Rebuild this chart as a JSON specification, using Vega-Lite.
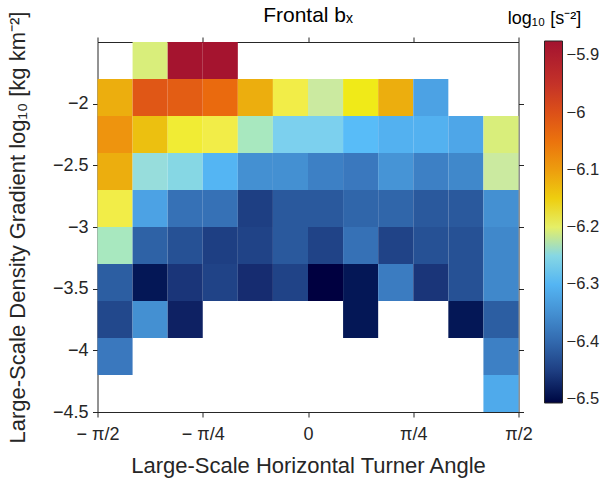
{
  "$schema": "https://vega.github.io/schema/vega-lite/v6.json",
  "width": 421,
  "height": 370,
  "autosize": {"type": "none"},
  "padding": {"left": 97.5, "top": 42, "right": 84.5, "bottom": 68},
  "background": "white",
  "config": {
    "font": "Liberation Sans",
    "view": {"stroke": null},
    "axis": {"grid": false, "domainColor": "#262626", "tickColor": "#262626", "labelColor": "#262626", "titleColor": "#262626", "labelFont": "Liberation Sans", "titleFont": "Liberation Sans", "titleFontWeight": "normal", "zindex": 1, "domainWidth": 1, "tickWidth": 1, "tickSize": 5, "labelFlush": false}
  },
  "title": {"text": "Frontal bₓ", "fontSize": 21, "fontWeight": "normal", "color": "#000000", "anchor": "middle", "offset": -16, "font": "Liberation Sans"},
  "data": {"values": [
    {"a": -75, "a2": -60, "g": -1.5, "g2": -1.8, "v": -6.205},
    {"a": -60, "a2": -45, "g": -1.5, "g2": -1.8, "v": -5.88},
    {"a": -45, "a2": -30, "g": -1.5, "g2": -1.8, "v": -5.88},

    {"a": -90, "a2": -75, "g": -1.8, "g2": -2.1, "v": -6.12},
    {"a": -75, "a2": -60, "g": -1.8, "g2": -2.1, "v": -6.01},
    {"a": -60, "a2": -45, "g": -1.8, "g2": -2.1, "v": -6.02},
    {"a": -45, "a2": -30, "g": -1.8, "g2": -2.1, "v": -6.04},
    {"a": -30, "a2": -15, "g": -1.8, "g2": -2.1, "v": -6.12},
    {"a": -15, "a2": 0, "g": -1.8, "g2": -2.1, "v": -6.19},
    {"a": 0, "a2": 15, "g": -1.8, "g2": -2.1, "v": -6.215},
    {"a": 15, "a2": 30, "g": -1.8, "g2": -2.1, "v": -6.17},
    {"a": 30, "a2": 45, "g": -1.8, "g2": -2.1, "v": -6.12},
    {"a": 45, "a2": 60, "g": -1.8, "g2": -2.1, "v": -6.325},

    {"a": -90, "a2": -75, "g": -2.1, "g2": -2.4, "v": -6.09},
    {"a": -75, "a2": -60, "g": -2.1, "g2": -2.4, "v": -6.14},
    {"a": -60, "a2": -45, "g": -2.1, "g2": -2.4, "v": -6.18},
    {"a": -45, "a2": -30, "g": -2.1, "g2": -2.4, "v": -6.19},
    {"a": -30, "a2": -15, "g": -2.1, "g2": -2.4, "v": -6.225},
    {"a": -15, "a2": 0, "g": -2.1, "g2": -2.4, "v": -6.26},
    {"a": 0, "a2": 15, "g": -2.1, "g2": -2.4, "v": -6.26},
    {"a": 15, "a2": 30, "g": -2.1, "g2": -2.4, "v": -6.29},
    {"a": 30, "a2": 45, "g": -2.1, "g2": -2.4, "v": -6.305},
    {"a": 45, "a2": 60, "g": -2.1, "g2": -2.4, "v": -6.305},
    {"a": 60, "a2": 75, "g": -2.1, "g2": -2.4, "v": -6.32},
    {"a": 75, "a2": 90, "g": -2.1, "g2": -2.4, "v": -6.205},

    {"a": -90, "a2": -75, "g": -2.4, "g2": -2.7, "v": -6.12},
    {"a": -75, "a2": -60, "g": -2.4, "g2": -2.7, "v": -6.24},
    {"a": -60, "a2": -45, "g": -2.4, "g2": -2.7, "v": -6.25},
    {"a": -45, "a2": -30, "g": -2.4, "g2": -2.7, "v": -6.3},
    {"a": -30, "a2": -15, "g": -2.4, "g2": -2.7, "v": -6.35},
    {"a": -15, "a2": 0, "g": -2.4, "g2": -2.7, "v": -6.35},
    {"a": 0, "a2": 15, "g": -2.4, "g2": -2.7, "v": -6.37},
    {"a": 15, "a2": 30, "g": -2.4, "g2": -2.7, "v": -6.38},
    {"a": 30, "a2": 45, "g": -2.4, "g2": -2.7, "v": -6.345},
    {"a": 45, "a2": 60, "g": -2.4, "g2": -2.7, "v": -6.37},
    {"a": 60, "a2": 75, "g": -2.4, "g2": -2.7, "v": -6.36},
    {"a": 75, "a2": 90, "g": -2.4, "g2": -2.7, "v": -6.215},

    {"a": -90, "a2": -75, "g": -2.7, "g2": -3.0, "v": -6.19},
    {"a": -75, "a2": -60, "g": -2.7, "g2": -3.0, "v": -6.325},
    {"a": -60, "a2": -45, "g": -2.7, "g2": -3.0, "v": -6.39},
    {"a": -45, "a2": -30, "g": -2.7, "g2": -3.0, "v": -6.39},
    {"a": -30, "a2": -15, "g": -2.7, "g2": -3.0, "v": -6.45},
    {"a": -15, "a2": 0, "g": -2.7, "g2": -3.0, "v": -6.42},
    {"a": 0, "a2": 15, "g": -2.7, "g2": -3.0, "v": -6.42},
    {"a": 15, "a2": 30, "g": -2.7, "g2": -3.0, "v": -6.405},
    {"a": 30, "a2": 45, "g": -2.7, "g2": -3.0, "v": -6.405},
    {"a": 45, "a2": 60, "g": -2.7, "g2": -3.0, "v": -6.42},
    {"a": 60, "a2": 75, "g": -2.7, "g2": -3.0, "v": -6.42},
    {"a": 75, "a2": 90, "g": -2.7, "g2": -3.0, "v": -6.35},

    {"a": -90, "a2": -75, "g": -3.0, "g2": -3.3, "v": -6.225},
    {"a": -75, "a2": -60, "g": -3.0, "g2": -3.3, "v": -6.41},
    {"a": -60, "a2": -45, "g": -3.0, "g2": -3.3, "v": -6.43},
    {"a": -45, "a2": -30, "g": -3.0, "g2": -3.3, "v": -6.45},
    {"a": -30, "a2": -15, "g": -3.0, "g2": -3.3, "v": -6.445},
    {"a": -15, "a2": 0, "g": -3.0, "g2": -3.3, "v": -6.42},
    {"a": 0, "a2": 15, "g": -3.0, "g2": -3.3, "v": -6.445},
    {"a": 15, "a2": 30, "g": -3.0, "g2": -3.3, "v": -6.39},
    {"a": 30, "a2": 45, "g": -3.0, "g2": -3.3, "v": -6.445},
    {"a": 45, "a2": 60, "g": -3.0, "g2": -3.3, "v": -6.43},
    {"a": 60, "a2": 75, "g": -3.0, "g2": -3.3, "v": -6.43},
    {"a": 75, "a2": 90, "g": -3.0, "g2": -3.3, "v": -6.36},

    {"a": -90, "a2": -75, "g": -3.3, "g2": -3.6, "v": -6.415},
    {"a": -75, "a2": -60, "g": -3.3, "g2": -3.6, "v": -6.49},
    {"a": -60, "a2": -45, "g": -3.3, "g2": -3.6, "v": -6.46},
    {"a": -45, "a2": -30, "g": -3.3, "g2": -3.6, "v": -6.445},
    {"a": -30, "a2": -15, "g": -3.3, "g2": -3.6, "v": -6.47},
    {"a": -15, "a2": 0, "g": -3.3, "g2": -3.6, "v": -6.445},
    {"a": 0, "a2": 15, "g": -3.3, "g2": -3.6, "v": -6.51},
    {"a": 15, "a2": 30, "g": -3.3, "g2": -3.6, "v": -6.49},
    {"a": 30, "a2": 45, "g": -3.3, "g2": -3.6, "v": -6.375},
    {"a": 45, "a2": 60, "g": -3.3, "g2": -3.6, "v": -6.46},
    {"a": 60, "a2": 75, "g": -3.3, "g2": -3.6, "v": -6.43},
    {"a": 75, "a2": 90, "g": -3.3, "g2": -3.6, "v": -6.36},

    {"a": -90, "a2": -75, "g": -3.6, "g2": -3.9, "v": -6.44},
    {"a": -75, "a2": -60, "g": -3.6, "g2": -3.9, "v": -6.35},
    {"a": -60, "a2": -45, "g": -3.6, "g2": -3.9, "v": -6.48},
    {"a": 15, "a2": 30, "g": -3.6, "g2": -3.9, "v": -6.49},
    {"a": 60, "a2": 75, "g": -3.6, "g2": -3.9, "v": -6.49},
    {"a": 75, "a2": 90, "g": -3.6, "g2": -3.9, "v": -6.415},

    {"a": -90, "a2": -75, "g": -3.9, "g2": -4.2, "v": -6.38},
    {"a": 75, "a2": 90, "g": -3.9, "g2": -4.2, "v": -6.37},

    {"a": 75, "a2": 90, "g": -4.2, "g2": -4.5, "v": -6.315}
  ]},
  "layer": [
    {
      "mark": {"type": "rect"},
      "encoding": {
        "x": {"field": "a", "type": "quantitative", "scale": {"domain": [-90, 90], "nice": false, "zero": false},
          "axis": {"orient": "bottom", "values": [-90, -45, 0, 45, 90],
            "labelExpr": "datum.value == -90 ? '− π/2' : datum.value == -45 ? '− π/4' : datum.value == 0 ? '0' : datum.value == 45 ? 'π/4' : 'π/2'",
            "labelFontSize": 18, "labelPadding": 8, "title": "Large-Scale Horizontal Turner Angle", "titleFontSize": 22, "titlePadding": 12}},
        "x2": {"field": "a2"},
        "y": {"field": "g", "type": "quantitative", "scale": {"domain": [-4.5, -1.5], "nice": false, "zero": false},
          "axis": {"orient": "left", "values": [-4.5, -4, -3.5, -3, -2.5, -2], "format": "~g",
            "labelFontSize": 18, "labelPadding": 4.5, "title": "Large-Scale Density Gradient log₁₀ [kg km⁻²]", "titleFontSize": 22, "titlePadding": 23}},
        "y2": {"field": "g2"},
        "color": {"field": "v", "type": "quantitative",
          "scale": {"clamp": true,
            "domain": [-6.507, -6.47, -6.44, -6.41, -6.38, -6.35, -6.32, -6.29, -6.26, -6.235, -6.215, -6.195, -6.17, -6.14, -6.11, -6.08, -6.04, -6.0, -5.95, -5.875],
            "range": ["#000040", "#162c70", "#22488c", "#2e62a6", "#3a78be", "#4490d2", "#4ea6e8", "#58bcf8", "#7cd0ee", "#a0e0d8", "#cbeaa0", "#f3ee50", "#f0ea18", "#ecc010", "#eca510", "#ee8c10", "#ea6a0e", "#dc5018", "#c43228", "#a3122f"]},
          "legend": {"orient": "none", "legendX": 410, "legendY": -32, "direction": "vertical",
            "gradientLength": 362, "gradientThickness": 18, "gradientStrokeColor": "#262626", "gradientStrokeWidth": 1,
            "values": [-6.5, -6.4, -6.3, -6.2, -6.1, -6.0, -5.9], "format": "~g", "labelOverlap": false,
            "labelFontSize": 16.5, "labelColor": "#262626", "labelOffset": 4, "labelFont": "Liberation Sans",
            "title": "log₁₀ [s⁻²]", "titleFontSize": 18, "titleFontWeight": "normal", "titleColor": "#000000", "titleFont": "Liberation Sans",
            "titleAnchor": "start", "titleAlign": "center", "titlePadding": 13, "padding": 0}}
      }
    },
    {
      "mark": {"type": "rect", "opacity": 0},
      "encoding": {
        "x": {"field": "a", "type": "quantitative", "axis": {"orient": "top", "values": [-90, -45, 0, 45, 90], "labels": false, "title": null}},
        "x2": {"field": "a2"},
        "y": {"field": "g", "type": "quantitative", "axis": {"orient": "right", "values": [-4.5, -4, -3.5, -3, -2.5, -2], "labels": false, "title": null}},
        "y2": {"field": "g2"}
      }
    }
  ],
  "resolve": {"axis": {"x": "independent", "y": "independent"}}
}
